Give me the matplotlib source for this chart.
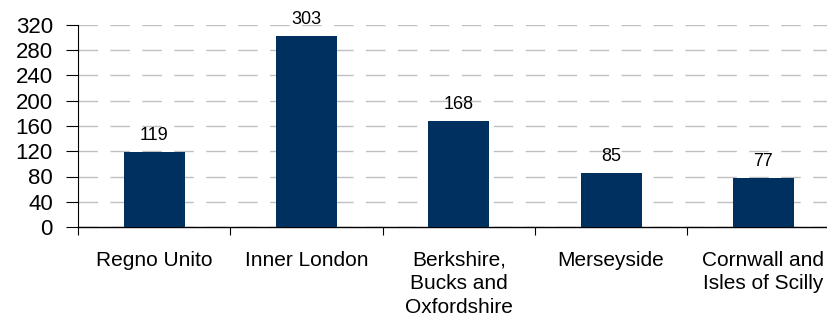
import matplotlib
matplotlib.use('Agg')
import matplotlib.pyplot as plt
import numpy as np

plt.rcParams['font.family'] = ['Liberation Sans', 'DejaVu Sans']

categories = ['Regno Unito', 'Inner London', 'Berkshire,\nBucks and\nOxfordshire',
              'Merseyside', 'Cornwall and\nIsles of Scilly']
values = [119, 303, 168, 85, 77]
yticks = [0, 40, 80, 120, 160, 200, 240, 280, 320]

fig = plt.figure(figsize=(8.28, 3.23), dpi=100)
ax = fig.add_axes([78 / 828, 96 / 323, 761.5 / 828, 202 / 323])

x = np.arange(len(values))
ax.bar(x, values, width=0.4, color='#00305f', zorder=3)
for xi, v in zip(x, values):
    ax.text(xi, v + 13, str(v), ha='center', va='bottom', fontsize=13)

ax.set_xlim(-0.5, len(values) - 0.5)
ax.set_ylim(0, 320)
ax.set_yticks(yticks)
ax.set_yticklabels([str(t) for t in yticks], fontsize=16)
ax.set_xticks(x)
ax.set_xticklabels(categories, fontsize=15, linespacing=1.3)
ax.set_xticks(np.arange(len(values) + 1) - 0.5, minor=True)
ax.tick_params(axis='x', which='major', length=0, pad=17)
ax.tick_params(axis='x', which='minor', length=6, width=0.8, direction='out')
ax.tick_params(axis='y', length=9, width=0.8, direction='out', pad=9)

ax.grid(axis='y', color='#c0c0c0', linestyle=(0, (14, 9)), linewidth=1, zorder=0)
for s in ['top', 'right']:
    ax.spines[s].set_visible(False)
ax.spines['left'].set_linewidth(0.8)
ax.spines['bottom'].set_linewidth(1.0)

fig.savefig('out.png', dpi=100)
